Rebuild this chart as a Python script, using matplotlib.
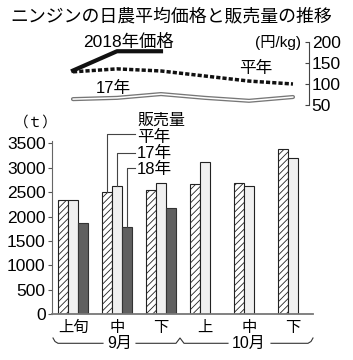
import matplotlib
matplotlib.use("Agg")
import matplotlib.pyplot as plt
import numpy as np

plt.rcParams['font.family'] = ['Liberation Sans', 'Noto Sans CJK JP']
plt.rcParams['hatch.linewidth'] = 0.6

# Data
periods = ["上旬", "中", "下", "上", "中", "下"]
months = ["9月", "10月"]

price_2018 = [132, 178, 178]
price_avg = [129, 136, 131, 119, 107, 100]
price_2017 = [64, 67, 76, 67, 60, 69]

sales_avg = [2330, 2510, 2550, 2670, 2690, 3390]
sales_2017 = [2345, 2630, 2680, 3120, 2630, 3210]
sales_2018 = [1860, 1790, 2170]

W, H = 353, 360
fig = plt.figure(figsize=(W / 100, H / 100), dpi=100)

def fx(x):
    return x / W

def fy(y):
    return 1 - y / H

x = np.arange(len(periods))
xl = -0.477
bw = 0.227
off = 0.235

# bar chart
ax = fig.add_axes([fx(52), fy(314.3), fx(313) - fx(52), (173.4) / H])
ax.bar(x - off, sales_avg, bw, facecolor="white", edgecolor="#222222",
       hatch="/////", linewidth=0.8)
ax.bar(x, sales_2017, bw, facecolor="#f0f0f0", edgecolor="#222222", linewidth=0.8)
ax.bar(x[:3] + off, sales_2018, bw, facecolor="#606060", edgecolor="#333333", linewidth=0.8)
ax.set_xlim(xl, 5.455)
ax.set_ylim(0, 3550)
ax.set_yticks(range(0, 3501, 500))
ax.set_xticks(x)
ax.set_xticklabels(periods, fontsize=11)
ax.tick_params(axis="x", length=0, pad=5)
ax.tick_params(axis="y", length=3, pad=1.5, labelsize=12.5, color="#555555", direction="out")
for s in ["top", "right"]:
    ax.spines[s].set_visible(False)
ax.spines["left"].set_color("#666666")
ax.spines["bottom"].set_color("#777777")
ax.spines["bottom"].set_linewidth(1.3)

# legend leaders
lab_x = 1.455
leaders = [("平年", -off, sales_avg[1], 3684, 3629),
           ("17年", 0, sales_2017[1], 3308, 3302),
           ("18年", off, sales_2018[1], 2988, 2975)]
for name, o, top, ly, ty in leaders:
    ax.plot([1 + o, 1 + o, 1.41], [top, ly, ly], color="#444444", lw=0.8, clip_on=False)
    ax.text(lab_x, ty, name, fontsize=12, va="center", ha="left")
ax.text(lab_x, 3977, "販売量", fontsize=11.5, va="center", ha="left")
fig.text(fx(14), fy(123), "（ｔ）", fontsize=10.5, va="center", ha="left")

# line chart
ax2 = fig.add_axes([fx(52), fy(105), fx(309) - fx(52), 63 / H])
ax2.plot(x, price_2017, color="#777777", lw=3.0, solid_capstyle="round")
ax2.plot(x, price_2017, color="white", lw=1.1, solid_capstyle="round")
ax2.plot(x, price_avg, color="#111111", lw=2.5, linestyle=(0, (1.2, 0.6)))
ax2.plot(x[:3], price_2018, color="#111111", lw=3.0)
ax2.set_xlim(xl, 5.364)
ax2.set_ylim(50, 200)
ax2.set_yticks([50, 100, 150, 200])
ax2.yaxis.tick_right()
ax2.tick_params(axis="y", direction="in", length=3, pad=2, labelsize=12.5, color="#444444")
ax2.set_xticks([])
for s in ["top", "left", "bottom"]:
    ax2.spines[s].set_visible(False)
ax2.spines["right"].set_color("#444444")
ax2.patch.set_alpha(0)

fig.text(fx(128), fy(42), "2018年価格", fontsize=12.5, va="center", ha="center")
fig.text(fx(256), fy(68), "平年", fontsize=12, va="center", ha="center")
fig.text(fx(113), fy(88), "17年", fontsize=12, va="center", ha="center")
fig.text(fx(278), fy(42), "(円/kg)", fontsize=11, va="center", ha="center")

# title
fig.text(fx(10), fy(17), "ニンジンの日農平均価格と販売量の推移", fontsize=12.9,
         va="center", ha="left")

# month brackets
bk = dict(color="#333333", lw=0.8, transform=fig.transFigure)
segs = [
    [(53, 338), (55, 341.5), (58, 343.3), (103, 343.3)],
    [(136, 343.3), (176, 343.3), (180, 338), (184, 343.3), (228, 343.3)],
    [(271, 343.3), (308, 343.3), (311, 341.5), (313, 338)],
]
for seg in segs:
    fig.add_artist(plt.Line2D([fx(p[0]) for p in seg], [fy(p[1]) for p in seg], **bk))
fig.text(fx(120), fy(343), months[0], fontsize=11.5, va="center", ha="center")
fig.text(fx(249), fy(343), months[1], fontsize=11.5, va="center", ha="center")

fig.savefig("out.png", dpi=100)
